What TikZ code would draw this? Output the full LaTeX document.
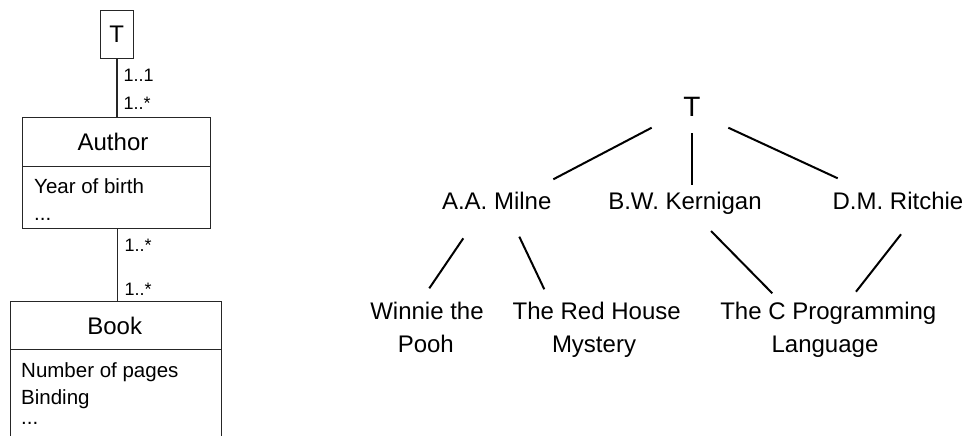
\documentclass[tikz,border=0pt]{standalone}
\usepackage{fontspec}
\setmainfont{Liberation Sans}
\begin{document}
\begin{tikzpicture}[x=1pt,y=-1pt,
  umlbox/.style={draw=black!85, line width=1pt, rectangle, inner sep=0pt},
  ttl/.style={font=\fontsize{24}{29}\selectfont, inner sep=0pt, anchor=base},
  attr/.style={font=\fontsize{20.5}{24}\selectfont, inner sep=0pt, anchor=base west},
  mult/.style={font=\fontsize{18}{22}\selectfont, inner sep=0pt, anchor=base west},
  tree/.style={font=\fontsize{24}{33}\selectfont, inner sep=0pt, anchor=base},
  treeedge/.style={line width=2pt, line cap=butt}]
\useasboundingbox (0,0) rectangle (972,436);

% ---------- left: UML-like class diagram ----------
\node[umlbox, minimum width=32.6pt, minimum height=48pt] (tbox) at (117,34.7) {};
\node[ttl] (tboxt) at (116.7,43) {T};
\node[umlbox, minimum width=187.3pt, minimum height=110.7pt] (author) at (116.35,172.65) {};
\node[umlbox, minimum width=211pt, minimum height=148.3pt] (book) at (116.2,375.85) {};

\draw[black!85, line width=1pt] (author.west |- 0,166) -- (author.east |- 0,166);
\draw[black!85, line width=1pt] (book.west |- 0,349) -- (book.east |- 0,349);

\node[ttl] (authort) at (113,150.7) {Author};
\node[attr] (yob) at (34,193.3) {Year of birth};
\node[attr] (adots) at (34,220) {...};

\node[ttl] (bookt) at (114.7,334) {Book};
\node[attr] (nop) at (21,377.5) {Number of pages};
\node[attr] (bind) at (21,404.5) {Binding};
\node[attr] (bdots) at (21,424) {...};

\draw[black!85, line width=1.5pt] (tbox.south) -- (tbox.south |- author.north);
\draw[black!85, line width=1pt] (author.south -| tbox.south) -- (tbox.south |- book.north);

\node[mult] (m1) at (123.3,81.7) {1..1};
\node[mult] (m2) at (123.3,110) {1..*};
\node[mult] (m3) at (124.3,251.7) {1..*};
\node[mult] (m4) at (124.3,295.7) {1..*};

% ---------- right: tree ----------
\node[tree, font=\fontsize{28}{33}\selectfont] (root) at (692,116.7) {T};
\node[tree] (milne) at (496.7,209) {A.A. Milne};
\node[tree] (kern) at (685,209) {B.W. Kernigan};
\node[tree] (ritchie) at (898,209) {D.M. Ritchie};
\node[tree] (winnie) at (427,319) {Winnie the};
\node[tree] (winnieb) at (425.8,352) {Pooh};
\node[tree] (red) at (596.7,319) {The Red House};
\node[tree] (redb) at (594,352) {Mystery};
\node[tree] (cprog) at (828.3,319) {The C Programming};
\node[tree] (cprogb) at (825,352) {Language};

\coordinate (rm1) at (651.7,127.7); \coordinate (rm2) at (553.3,179.3);
\coordinate (rk1) at (691.5,133.3); \coordinate (rk2) at (691.5,185);
\coordinate (rr1) at (728.3,127.7); \coordinate (rr2) at (837.7,178.3);
\coordinate (mw1) at (463.3,238.3); \coordinate (mw2) at (429.3,288.3);
\coordinate (mr1) at (519.3,236.7); \coordinate (mr2) at (544.3,289.3);
\coordinate (kc1) at (711,231);     \coordinate (kc2) at (772.3,293.3);
\coordinate (rc1) at (901,234.3);   \coordinate (rc2) at (856,291.7);

\draw[treeedge] (rm1) -- (rm2);
\draw[treeedge] (rk1) -- (rk2);
\draw[treeedge] (rr1) -- (rr2);
\draw[treeedge] (mw1) -- (mw2);
\draw[treeedge] (mr1) -- (mr2);
\draw[treeedge] (kc1) -- (kc2);
\draw[treeedge] (rc1) -- (rc2);
\end{tikzpicture}
\end{document}
